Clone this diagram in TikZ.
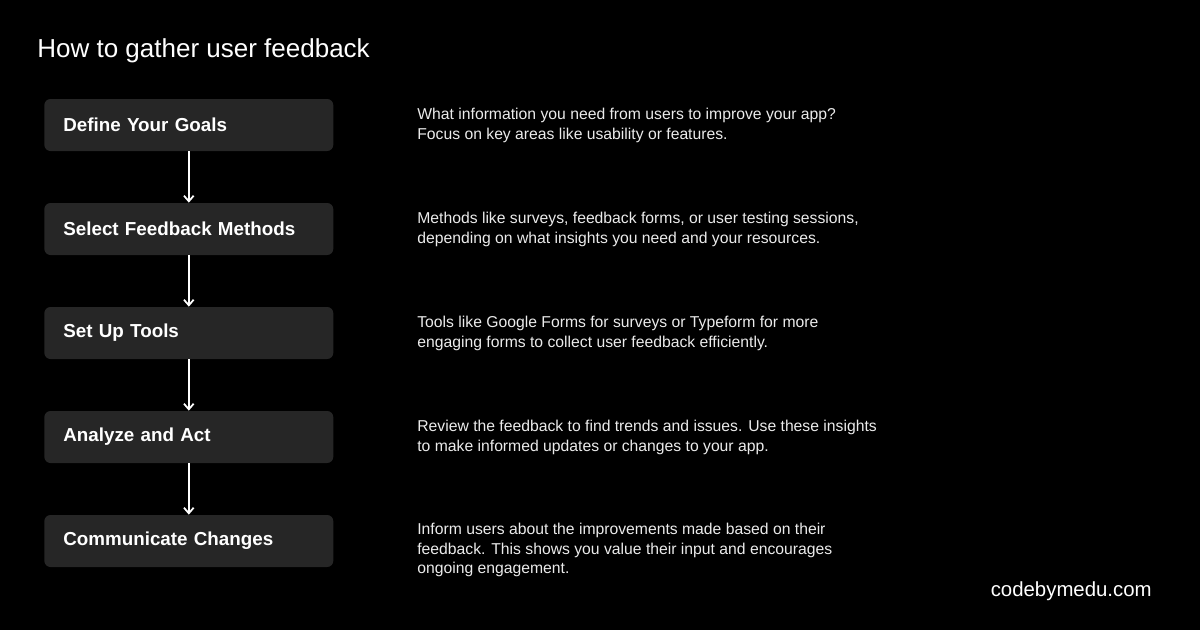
\documentclass[tikz,border=0pt]{standalone}
\usepackage{fontspec}
\setmainfont{Liberation Sans}
\usetikzlibrary{arrows.meta}

\definecolor{boxgray}{RGB}{38,38,38}
\definecolor{softwhite}{RGB}{235,235,235}

\tikzset{
    stepbox/.style={draw=none, fill=boxgray, rounded corners=3.5pt,
        anchor=west, minimum height=1.04cm, text width=5.02cm,
        inner xsep=0.38cm, inner ysep=0pt, align=left, text=white,
        font=\fontsize{10.7}{12.5}\selectfont\bfseries},
    desc/.style={anchor=north west, inner sep=0pt, align=left, text=softwhite,
        font=\fontsize{8.95}{11.1}\selectfont},
    flow/.style={-{Straight Barb[length=3.2pt,width=5.5pt]}, white, line width=1pt}
}

\begin{document}
\begin{tikzpicture}[x=0.02cm, y=-0.02cm]
    % background, fixes the size
    \fill[black] (0,0) rectangle (1200,630);

    % title
    \node[anchor=west, inner sep=0pt, text=white, font=\fontsize{14.8}{17}\selectfont] (title) at (37,51) {How to gather user feedback};

    % left column: the steps
    \node[stepbox] (goals) at (44,125) {Define Your Goals};
    \node[stepbox] (methods) at (44,229) {Select Feedback Methods};
    \node[stepbox] (tools) at (44,333) {Set Up Tools};
    \node[stepbox] (analyze) at (44,437) {Analyze and Act};
    \node[stepbox] (communicate) at (44,541) {Communicate Changes};

    % arrows between the steps
    \draw[flow] (goals.south) -- (methods.north);
    \draw[flow] (methods.south) -- (tools.north);
    \draw[flow] (tools.south) -- (analyze.north);
    \draw[flow] (analyze.south) -- (communicate.north);

    % right column: what each step means
    \node[desc] (goalsdesc) at (417,108) {What information you need from users to improve your app?\\Focus on key areas like usability or features.};
    \node[desc] (methodsdesc) at (417,212) {Methods like surveys, feedback forms, or user testing sessions,\\depending on what insights you need and your resources.};
    \node[desc] (toolsdesc) at (417,316) {Tools like Google Forms for surveys or Typeform for more\\engaging forms to collect user feedback efficiently.};
    \node[desc] (analyzedesc) at (417,420) {Review the feedback to find trends and issues. Use these insights\\to make informed updates or changes to your app.};
    \node[desc] (communicatedesc) at (417,523) {Inform users about the improvements made based on their\\feedback. This shows you value their input and encourages\\ongoing engagement.};

    % footer
    \node[anchor=east, inner sep=0pt, text=white, font=\fontsize{11.6}{13.5}\selectfont] (site) at (1152,591) {codebymedu.com};
\end{tikzpicture}
\end{document}
